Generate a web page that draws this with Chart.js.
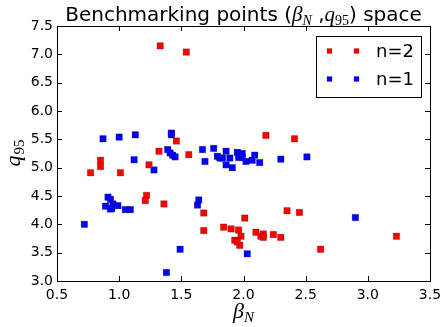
<!DOCTYPE html>
<html>
<head>
<meta charset="utf-8">
<script src="https://cdn.jsdelivr.net/npm/chart.js@4/dist/chart.umd.min.js"></script>
<style>
html,body{margin:0;padding:0;background:#fff;}
#wrap{width:442px;height:327px;position:relative;}
</style>
</head>
<body>
<div id="wrap"><canvas id="c"></canvas></div>
<script>
// n=2 series (red)
const n2Beta = [1.33,1.54,1.46,1.32,1.56,0.85,0.85,0.77,1.01,1.24,1.22,1.21,1.36,2.18,2.41,1.68,1.68,2.01,1.84,1.90,1.96,1.98,1.93,1.95,1.97,2.10,2.16,2.14,2.16,2.24,2.30,2.35,2.45,2.62,3.23];
const n2Q95  = [7.15,7.04,5.47,5.29,5.23,5.13,5.02,4.91,4.91,5.05,4.51,4.42,4.36,5.57,5.51,4.20,3.89,4.11,3.95,3.92,3.90,3.79,3.72,3.69,3.63,3.86,3.83,3.79,3.77,3.82,3.77,4.24,4.21,3.56,3.79];
// n=1 series (blue)
const n1Beta = [0.87,1.00,1.13,1.42,1.42,1.39,1.41,1.43,1.45,1.12,1.28,1.67,1.69,1.76,1.79,1.81,1.83,1.86,1.86,1.89,1.91,1.95,1.99,1.96,1.99,2.02,2.07,2.09,2.13,2.30,2.51,0.91,0.93,0.95,0.89,0.94,0.93,0.99,1.05,1.09,0.72,1.63,1.64,1.49,1.38,2.03,2.90];
const n1Q95  = [5.51,5.54,5.58,5.61,5.58,5.32,5.26,5.22,5.19,5.14,4.96,5.32,5.11,5.34,5.20,5.17,5.17,5.29,5.05,5.17,5.00,5.27,5.25,5.18,5.18,5.11,5.13,5.22,5.09,5.15,5.19,4.48,4.44,4.36,4.32,4.28,4.27,4.33,4.26,4.26,4.00,4.34,4.43,3.56,3.15,3.48,4.12];
const seriesLabels = ["n=2","n=1"];
const seriesColors = ["#ff0000","#0000ff"];
const xTicks = [0.5,1.0,1.5,2.0,2.5,3.0,3.5];
const yTicks = [3.0,3.5,4.0,4.5,5.0,5.5,6.0,6.5,7.0,7.5];

const toPts = (xs, ys) => xs.map((x,i)=>({x:x,y:ys[i]}));

const decor = {
  id:'decor',
  afterDraw(chart){
    const ctx = chart.ctx, a = chart.chartArea;
    const xs = chart.scales.x, ys = chart.scales.y;
    ctx.save();
    ctx.strokeStyle = '#000'; ctx.lineWidth = 1;
    ctx.strokeRect(Math.round(a.left)+0.5, Math.round(a.top)+0.5, Math.round(a.right-a.left), Math.round(a.bottom-a.top));
    ctx.beginPath();
    xTicks.forEach(v=>{
      const px = Math.round(xs.getPixelForValue(v))+0.5;
      ctx.moveTo(px,a.bottom); ctx.lineTo(px,a.bottom-5);
      ctx.moveTo(px,a.top); ctx.lineTo(px,a.top+5);
    });
    yTicks.forEach(v=>{
      const py = Math.round(ys.getPixelForValue(v))+0.5;
      ctx.moveTo(a.left,py); ctx.lineTo(a.left+5,py);
      ctx.moveTo(a.right,py); ctx.lineTo(a.right-5,py);
    });
    ctx.stroke();

    // Title
    const cx = (a.left+a.right)/2;
    const norm = '20px "DejaVu Sans"';
    const mathI = 'italic 21px "Liberation Serif"';
    const sub = 'italic 14px "Liberation Serif"';
    const subN = '14px "Liberation Serif"';
    const parts = [
      [norm,'Benchmarking points (',0],
      [mathI,'\u03B2',0],[sub,'N',4],
      [norm,' ,',0],
      [mathI,'q',0],[subN,'95',4],
      [norm,') space',0]
    ];
    let tw = 0;
    parts.forEach(p=>{ctx.font=p[0]; tw+=ctx.measureText(p[1]).width;});
    let x = cx - tw/2;
    const base = 21;
    ctx.fillStyle='#000'; ctx.textBaseline='alphabetic'; ctx.textAlign='left';
    parts.forEach(p=>{ctx.font=p[0]; ctx.fillText(p[1],x,base+p[2]); x+=ctx.measureText(p[1]).width;});

    // x label
    ctx.font = 'italic 22px "Liberation Serif"';
    const bw = ctx.measureText('\u03B2').width;
    ctx.font = 'italic 15px "Liberation Serif"';
    const nw = ctx.measureText('N').width;
    let lx = cx - (bw+nw)/2;
    ctx.font = 'italic 22px "Liberation Serif"';
    ctx.fillText('\u03B2', lx, 318);
    ctx.font = 'italic 15px "Liberation Serif"';
    ctx.fillText('N', lx+bw, 322);

    // y label
    ctx.save();
    ctx.translate(20, (a.top+a.bottom)/2);
    ctx.rotate(-Math.PI/2);
    ctx.font = 'italic 22px "Liberation Serif"';
    const qw = ctx.measureText('q').width;
    ctx.font = '15px "Liberation Serif"';
    const sw = ctx.measureText('95').width;
    let qx = -(qw+sw)/2;
    ctx.font = 'italic 22px "Liberation Serif"';
    ctx.fillText('q', qx, 0);
    ctx.font = '15px "Liberation Serif"';
    ctx.fillText('95', qx+qw+1, 4);
    ctx.restore();

    // Legend
    const lxL = 316, lyT = 36, lw = 105, lh = 61;
    ctx.fillStyle='#fff';
    ctx.fillRect(lxL,lyT,lw,lh);
    ctx.strokeStyle='#000'; ctx.lineWidth=1;
    ctx.strokeRect(lxL+0.5,lyT+0.5,lw,lh);
    const rows = [51,79];
    seriesLabels.forEach((lab,i)=>{
      const yy = rows[i];
      [329.5,356.5].forEach(mx=>{
        ctx.fillStyle = seriesColors[i];
        ctx.fillRect(mx-2.5,yy-2.5,5,5);
        ctx.strokeStyle='rgba(0,0,0,0.35)'; ctx.lineWidth=0.5;
        ctx.strokeRect(mx-2.5,yy-2.5,5,5);
      });
      ctx.fillStyle='#000';
      ctx.font='18px "DejaVu Sans"';
      ctx.textBaseline='middle';
      ctx.fillText(lab, 376, yy+1);
    });
    ctx.restore();
  }
};

new Chart(document.getElementById('c'), {
  type:'scatter',
  data:{
    datasets:[
      {label:seriesLabels[0], data:toPts(n2Beta,n2Q95), backgroundColor:seriesColors[0], borderColor:'rgba(0,0,0,0.4)', borderWidth:0.5, pointStyle:'rect', pointRadius:4.6},
      {label:seriesLabels[1], data:toPts(n1Beta,n1Q95), backgroundColor:seriesColors[1], borderColor:'rgba(0,0,0,0.4)', borderWidth:0.5, pointStyle:'rect', pointRadius:4.6}
    ]
  },
  options:{
    responsive:true, maintainAspectRatio:false, animation:false,
    layout:{padding:{top:26,right:12,left:0,bottom:0}},
    plugins:{legend:{display:false}, tooltip:{enabled:false}},
    scales:{
      x:{
        type:'linear', min:0.5, max:3.5,
        afterFit(s){ s.height = 46; s.paddingLeft = 0; s.paddingRight = 0; },
        afterBuildTicks(s){ s.ticks = xTicks.map(v=>({value:v})); },
        grid:{display:false, drawTicks:false},
        border:{display:false},
        ticks:{padding:6, color:'#000', font:{family:'DejaVu Sans', size:14}, callback:v=>Number(v).toFixed(1), maxRotation:0}
      },
      y:{
        type:'linear', min:3.0, max:7.5,
        afterFit(s){ s.width = 57; s.paddingTop = 0; s.paddingBottom = 0; },
        afterBuildTicks(s){ s.ticks = yTicks.map(v=>({value:v})); },
        grid:{display:false, drawTicks:false},
        border:{display:false},
        ticks:{padding:4, color:'#000', font:{family:'DejaVu Sans', size:14}, callback:v=>Number(v).toFixed(1)}
      }
    }
  },
  plugins:[decor]
});
</script>
</body>
</html>
